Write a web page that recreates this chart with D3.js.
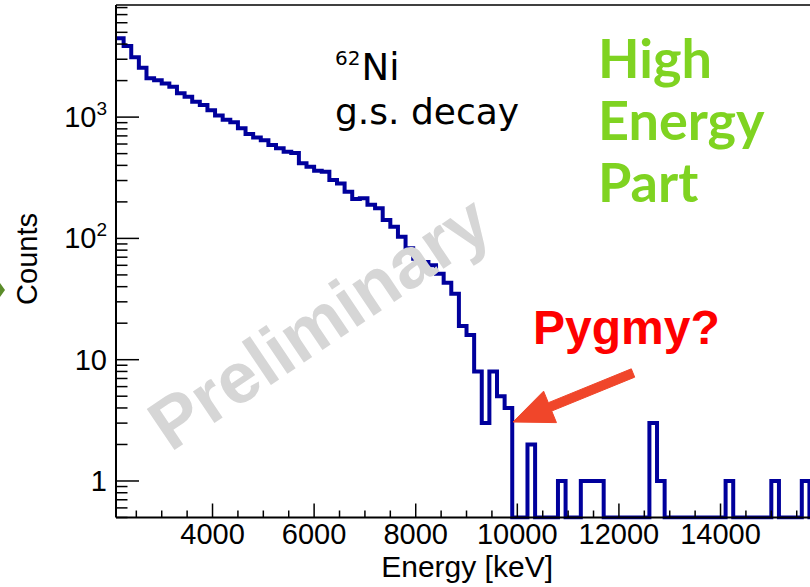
<!DOCTYPE html>
<html>
<head>
<meta charset="utf-8">
<script src="https://cdn.jsdelivr.net/npm/d3@7"></script>
<style>
  html, body { margin: 0; padding: 0; background: #fff; }
  svg { display: block; }
</style>
</head>
<body>
<svg id="chart" width="810" height="587"></svg>
<script>
// 62Ni ground-state decay gamma spectrum, high-energy part
const binStart = 2100;      // keV, low edge of first bin
const binWidth = 150;       // keV
const counts = [
  4470, 3850, 3110, 2550, 2090, 2010, 1890, 1780, 1570, 1470,
  1340, 1260, 1140, 1030, 950, 905, 810, 725, 680, 645,
  590, 553, 519, 505, 416, 390, 361, 355, 303, 284,
  243, 211, 214, 189, 177, 142, 125, 103, 83, 68,
  64, 60, 51, 43, 35, 19, 16, 8, 3, 8,
  5, 4, 0, 0, 2, 0, 0, 0, 1, 0,
  0, 1, 1, 1, 0, 0, 0, 0, 0, 0,
  3, 1, 0, 0, 0, 0, 0, 0, 0, 0,
  1, 0, 0, 0, 0, 0, 1, 0, 0, 0,
  1, 0
];
const xMajorTicks = [4000, 6000, 8000, 10000, 12000, 14000];
const xMinorStep = 500;
const yMajorTicks = [1, 10, 100, 1000];
const yTickLabels = [["1", ""], ["10", ""], ["10", "2"], ["10", "3"]];
const xDomain = [2100, 16000];
const yDomain = [0.5, 8400];

const svg = d3.select("#chart");
const frame = { left: 116, top: 5, bottom: 517.5 };
frame.right = frame.left + (xDomain[1] - xDomain[0]) * 0.0508;

const x = d3.scaleLinear().domain(xDomain).range([frame.left, frame.right]);
const y = d3.scaleLog().domain(yDomain).range([frame.bottom, frame.top]);

const rootFont = "'Liberation Sans', Arial, Helvetica, sans-serif";

// clip region for the histogram
svg.append("defs").append("clipPath").attr("id", "frameClip")
  .append("rect")
  .attr("x", frame.left).attr("y", frame.top - 2)
  .attr("width", frame.right - frame.left)
  .attr("height", frame.bottom - frame.top + 4);

// histogram outline (step line)
const pts = counts.map((c, i) => ({ e: binStart + i * binWidth, c }));
pts.push({ e: binStart + counts.length * binWidth, c: counts[counts.length - 1] });
const step = d3.line()
  .x(d => x(d.e))
  .y(d => y(Math.max(d.c, yDomain[0])))
  .curve(d3.curveStepAfter);

svg.append("path")
  .datum(pts)
  .attr("clip-path", "url(#frameClip)")
  .attr("d", step)
  .attr("fill", "none")
  .attr("stroke", "#00009c")
  .attr("stroke-width", 4)
  .attr("stroke-linejoin", "miter");

// frame lines
const axisG = svg.append("g").attr("stroke", "#000");
axisG.append("line").attr("x1", frame.left).attr("x2", frame.left)
  .attr("y1", frame.top).attr("y2", frame.bottom).attr("stroke-width", 2);
axisG.append("line").attr("x1", frame.left).attr("x2", frame.right)
  .attr("y1", frame.bottom).attr("y2", frame.bottom).attr("stroke-width", 2);
axisG.append("line").attr("x1", frame.left).attr("x2", frame.right)
  .attr("y1", frame.top).attr("y2", frame.top).attr("stroke-width", 1.6);

// x ticks
const xMinor = d3.range(2500, xDomain[1] + 1, xMinorStep).filter(v => !xMajorTicks.includes(v));
axisG.selectAll(".xminor").data(xMinor).enter().append("line")
  .attr("x1", d => x(d)).attr("x2", d => x(d))
  .attr("y1", frame.bottom).attr("y2", frame.bottom - 7).attr("stroke-width", 1.5);
axisG.selectAll(".xmajor").data(xMajorTicks).enter().append("line")
  .attr("x1", d => x(d)).attr("x2", d => x(d))
  .attr("y1", frame.bottom).attr("y2", frame.bottom - 14).attr("stroke-width", 1.5);

svg.selectAll(".xlab").data(xMajorTicks).enter().append("text")
  .attr("x", d => x(d)).attr("y", 544)
  .attr("text-anchor", "middle")
  .attr("font-family", rootFont).attr("font-size", 29)
  .text(d => d);

svg.append("text")
  .attr("x", 553).attr("y", 577)
  .attr("text-anchor", "end")
  .attr("font-family", rootFont).attr("font-size", 30)
  .text("Energy [keV]");

// y ticks (log)
const yMinor = [];
[0.1, 1, 10, 100, 1000].forEach(dec => {
  for (let k = 2; k <= 9; k++) {
    const v = dec * k;
    if (v >= yDomain[0] && v <= yDomain[1]) yMinor.push(v);
  }
});
axisG.selectAll(".yminor").data(yMinor).enter().append("line")
  .attr("x1", frame.left).attr("x2", frame.left + 11.5)
  .attr("y1", d => y(d)).attr("y2", d => y(d)).attr("stroke-width", 1.5);
axisG.selectAll(".ymajor").data(yMajorTicks).enter().append("line")
  .attr("x1", frame.left).attr("x2", frame.left + 23)
  .attr("y1", d => y(d)).attr("y2", d => y(d)).attr("stroke-width", 1.5);

const ylab = svg.selectAll(".ylab").data(yMajorTicks).enter().append("text")
  .attr("x", 107).attr("y", d => y(d) + 10)
  .attr("text-anchor", "end")
  .attr("font-family", rootFont).attr("font-size", 29);
ylab.append("tspan").text((d, i) => yTickLabels[i][0]);
ylab.filter((d, i) => yTickLabels[i][1] !== "")
  .append("tspan").attr("dy", -12).attr("font-size", 19)
  .text((d, i) => yTickLabels[yMajorTicks.indexOf(d)][1]);

svg.append("text")
  .attr("transform", "translate(37,259) rotate(-90)")
  .attr("text-anchor", "middle")
  .attr("font-family", rootFont).attr("font-size", 29)
  .text("Counts");

// small green pointer at the left edge
svg.append("path").attr("d", "M0,283 L5,290 L0,297 Z").attr("fill", "#5b8c2a");

// watermark drawn over the spectrum
svg.append("text")
  .attr("transform", "translate(333,343) rotate(-34)")
  .attr("text-anchor", "middle")
  .attr("font-family", rootFont).attr("font-weight", "bold")
  .attr("font-size", 72)
  .attr("fill", "#d6d6d6")
  .text("Preliminary");

// nucleus / decay label
const annFont = "'DejaVu Sans', sans-serif";
const nuc = svg.append("text").attr("x", 335).attr("y", 80)
  .attr("font-family", annFont).attr("font-size", 37).attr("fill", "#000");
nuc.append("tspan").attr("font-size", 20).attr("dy", -15).text("62");
nuc.append("tspan").attr("dx", 1).attr("dy", 15).text("Ni");
svg.append("text").attr("x", 335).attr("y", 124)
  .attr("font-family", annFont).attr("font-size", 36).attr("fill", "#000")
  .text("g.s. decay");

// region label
const green = "#7fd321";
["High", "Energy", "Part"].forEach((t, i) => {
  svg.append("text").attr("x", 598).attr("y", 78 + i * 62)
    .attr("font-family", "Lato, sans-serif").attr("font-weight", "bold")
    .attr("font-size", 54).attr("fill", green).text(t);
});

// pygmy annotation
svg.append("text").attr("x", 533).attr("y", 344)
  .attr("font-family", rootFont).attr("font-weight", "bold")
  .attr("font-size", 48).attr("fill", "#fe0000")
  .text("Pygmy?");

const tail = [633, 373], tip = [513, 422];
const dx = tip[0] - tail[0], dy = tip[1] - tail[1];
const len = Math.hypot(dx, dy), ux = dx / len, uy = dy / len;
const nx = -uy, ny = ux;
const headLen = 40, headHalf = 17, shaftHalf = 4.5;
const bx = tip[0] - ux * headLen, by = tip[1] - uy * headLen;
const arrowPts = [
  [tail[0] + nx * shaftHalf, tail[1] + ny * shaftHalf],
  [bx + nx * shaftHalf, by + ny * shaftHalf],
  [bx + nx * headHalf, by + ny * headHalf],
  tip,
  [bx - nx * headHalf, by - ny * headHalf],
  [bx - nx * shaftHalf, by - ny * shaftHalf],
  [tail[0] - nx * shaftHalf, tail[1] - ny * shaftHalf]
];
svg.append("path")
  .attr("d", "M" + arrowPts.map(p => p.join(",")).join("L") + "Z")
  .attr("fill", "#f0462a")
  .attr("stroke", "#f0462a").attr("stroke-width", 1).attr("stroke-linejoin", "round");
</script>
</body>
</html>
